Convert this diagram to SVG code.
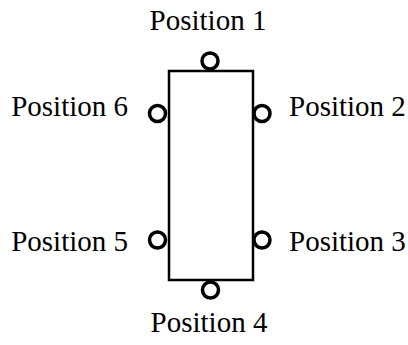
<svg xmlns="http://www.w3.org/2000/svg" width="408" height="345" viewBox="0 0 408 345">
<style>
text{font-family:"Liberation Serif","Times New Roman",serif;font-size:29px;fill:#000}
.c{fill:#fff;stroke:#000;stroke-width:3.5}
.b{fill:#fff;stroke:#000;stroke-width:2.5}
</style>
<rect width="408" height="345" fill="#fff"/>
<g id="body"><rect class="b" x="169" y="71" width="84" height="209"/></g>
<g id="p1"><circle class="c" cx="210" cy="61" r="8"/><text x="208" y="30" text-anchor="middle">Position 1</text></g>
<g id="p2"><circle class="c" cx="262" cy="113.5" r="8"/><text x="289" y="116">Position 2</text></g>
<g id="p3"><circle class="c" cx="262" cy="240" r="8"/><text x="289" y="251">Position 3</text></g>
<g id="p4"><circle class="c" cx="210.5" cy="290" r="8"/><text x="209" y="332" text-anchor="middle">Position 4</text></g>
<g id="p5"><circle class="c" cx="157.5" cy="240" r="8"/><text x="128" y="251" text-anchor="end">Position 5</text></g>
<g id="p6"><circle class="c" cx="157.5" cy="113.5" r="8"/><text x="128" y="116" text-anchor="end">Position 6</text></g>
<g id="connectors"/>
</svg>
